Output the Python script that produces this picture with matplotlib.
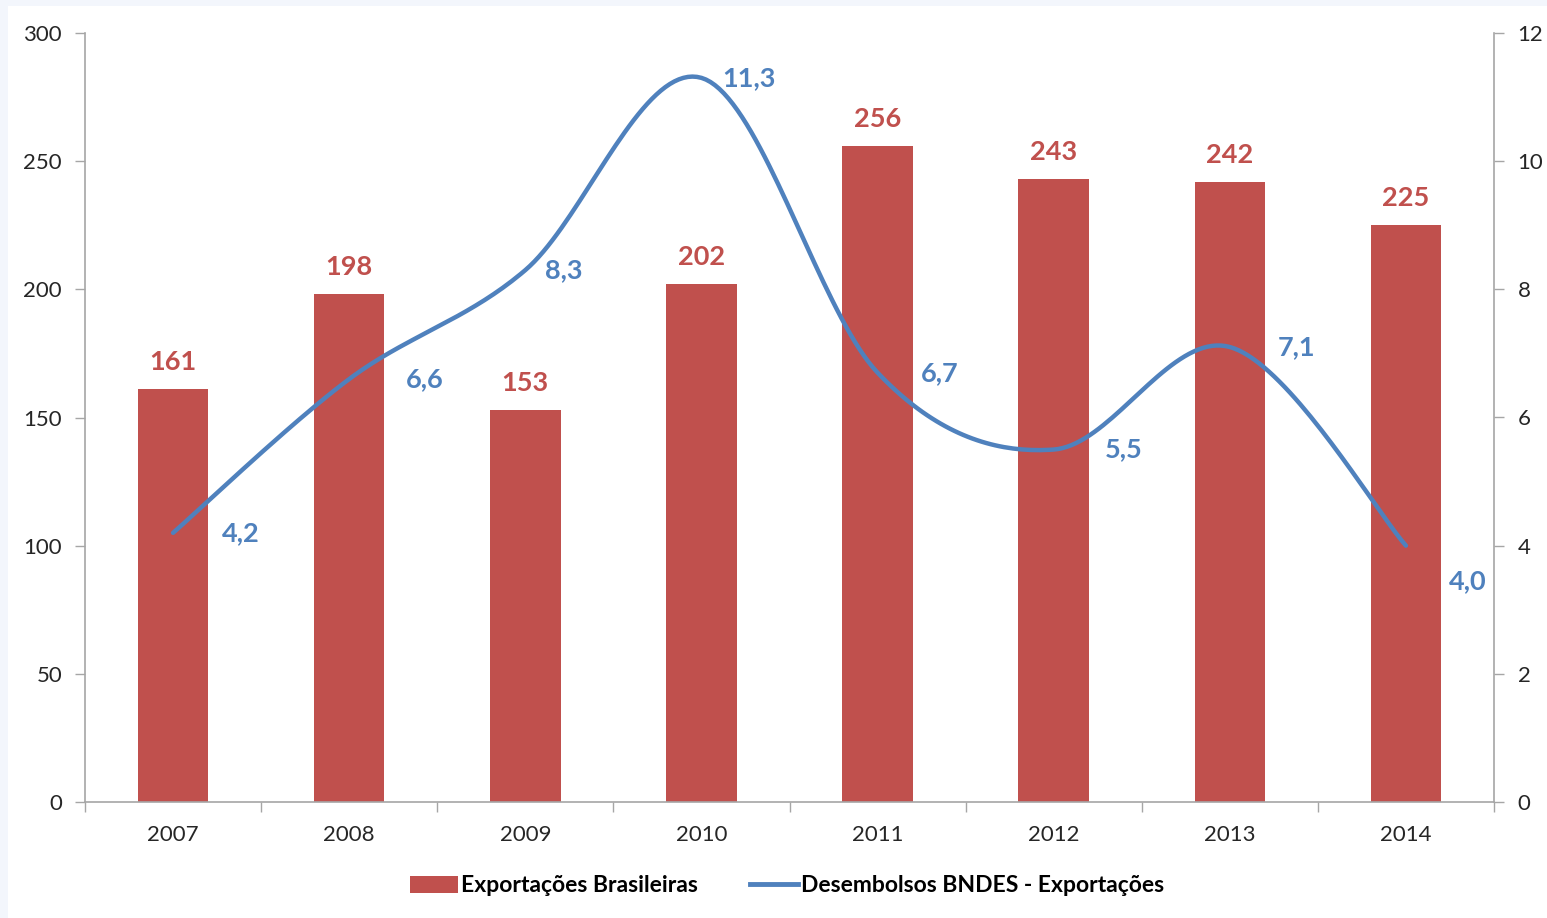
import matplotlib
matplotlib.use("Agg")
import matplotlib.pyplot as plt
import numpy as np
from matplotlib.lines import Line2D
from matplotlib.patches import Patch, Rectangle

years = ["2007", "2008", "2009", "2010", "2011", "2012", "2013", "2014"]
exportacoes = [161, 198, 153, 202, 256, 243, 242, 225]
desembolsos = [4.2, 6.6, 8.3, 11.3, 6.7, 5.5, 7.1, 4.0]
left_ticks = [0, 50, 100, 150, 200, 250, 300]
right_ticks = [0, 2, 4, 6, 8, 10, 12]

# label placement for the line labels (pixels: left-edge offset x, offset y)
line_label_dx = [49, 57, 20, 21, 43, 51, 48, 43]
line_label_dy = [0, 0, 0, 0, 0, 0, 0, -35]

RED = "#C0504D"
BLUE = "#4F81BD"
GRAY = "#A6A6A6"
TXT = "#262626"
FONT = ["Lato", "DejaVu Sans"]
plt.rcParams["font.family"] = FONT

W, H = 1547, 918
PT = 0.72  # points per pixel at dpi 100
fig = plt.figure(figsize=(W / 100, H / 100), dpi=100, facecolor="#F3F6FC")
fig.patches.append(Rectangle((8 / W, 0), 1, 1 - 6 / H, transform=fig.transFigure,
                             facecolor="white", edgecolor="none", zorder=-10))

ax = fig.add_axes([85 / W, 1 - 802 / H, (1494 - 85) / W, (802 - 33) / H])
ax.set_facecolor("none")
x = np.arange(len(years))
ax.bar(x, exportacoes, width=0.40, color=RED, zorder=2)
ax.set_xlim(-0.5, len(years) - 0.5)
ax.set_ylim(0, 300)
ax.set_yticks(left_ticks)
ax.set_yticklabels([str(t) for t in left_ticks])
ax.set_xticks(x)
ax.set_xticklabels(years)
ax.set_xticks(np.arange(-0.5, len(years)), minor=True)
ax.tick_params(axis="x", which="major", length=0, pad=16.5, labelsize=16, colors=TXT)
ax.tick_params(axis="x", which="minor", length=7, width=1, color=GRAY, direction="out")
ax.tick_params(axis="y", length=7, width=1, color=GRAY, pad=9.5, labelsize=16, labelcolor=TXT)
for s in ["top", "right"]:
    ax.spines[s].set_visible(False)
for s in ["left", "bottom"]:
    ax.spines[s].set_color(GRAY)
    ax.spines[s].set_linewidth(1.2)

for xi, v in zip(x, exportacoes):
    ax.annotate(str(v), (xi, v), xytext=(0, 15 * PT), textcoords="offset points",
                ha="center", va="bottom", color=RED, fontsize=19.5, fontweight="bold")

ax2 = ax.twinx()
ax2.set_ylim(0, 12)
ax2.set_yticks(right_ticks)
ax2.set_yticklabels([str(t) for t in right_ticks])
ax2.tick_params(axis="y", length=7, width=1, color=GRAY, pad=10, labelsize=16, labelcolor=TXT)
for s in ["top", "left", "bottom"]:
    ax2.spines[s].set_visible(False)
ax2.spines["right"].set_color(GRAY)
ax2.spines["right"].set_linewidth(1.2)

# Excel-like smoothed line (Bezier through the points)
px = x.astype(float)
py = np.array(desembolsos, dtype=float)
n = len(px)
sx, sy = [], []
t = np.linspace(0, 1, 40)
for i in range(n - 1):
    p0 = np.array([px[max(i - 1, 0)], py[max(i - 1, 0)]])
    p1 = np.array([px[i], py[i]])
    p2 = np.array([px[i + 1], py[i + 1]])
    p3 = np.array([px[min(i + 2, n - 1)], py[min(i + 2, n - 1)]])
    c1 = p1 + (p2 - p0) / 6
    c2 = p2 - (p3 - p1) / 6
    b = ((1 - t) ** 3)[:, None] * p1 + (3 * (1 - t) ** 2 * t)[:, None] * c1 + \
        (3 * (1 - t) * t ** 2)[:, None] * c2 + (t ** 3)[:, None] * p2
    sx.extend(b[:, 0]); sy.extend(b[:, 1])
ax2.plot(sx, sy, color=BLUE, lw=3.2, solid_capstyle="round", zorder=3)

for xi, v, dx, dy in zip(x, desembolsos, line_label_dx, line_label_dy):
    ax2.annotate(f"{v:.1f}".replace(".", ","), (xi, v), xytext=(dx * PT, dy * PT),
                 textcoords="offset points", ha="left", va="center",
                 color=BLUE, fontsize=19.5, fontweight="bold")

handles = [Patch(facecolor=RED, edgecolor="none"),
           Line2D([0], [0], color=BLUE, lw=3.5)]
fig.legend(handles, ["Exportações Brasileiras", "Desembolsos BNDES - Exportações"],
           loc="center", bbox_to_anchor=(787 / W, 1 - 886 / H), ncol=2, frameon=False,
           prop={"family": FONT, "weight": "bold", "size": 16.5},
           handlelength=2.1, handletextpad=0.1, columnspacing=2.3)

fig.savefig("out.png", dpi=100, facecolor=fig.get_facecolor())
